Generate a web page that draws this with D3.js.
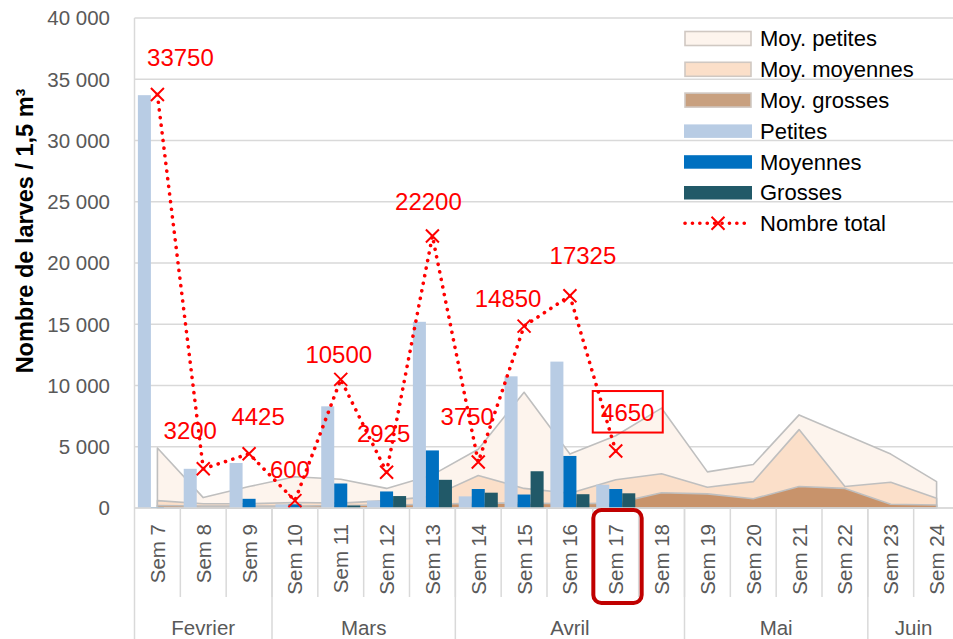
<!DOCTYPE html>
<html><head><meta charset="utf-8">
<script src="https://cdn.jsdelivr.net/npm/d3@7"></script>
<style>
html,body{margin:0;padding:0;background:#fff;}
svg{display:block;font-family:"Liberation Sans",Arial,sans-serif;}
</style></head>
<body>
<svg id="chart" width="953" height="639"></svg>
<script>
// ---- data ----
const categories = ["Sem 7","Sem 8","Sem 9","Sem 10","Sem 11","Sem 12","Sem 13","Sem 14","Sem 15","Sem 16","Sem 17","Sem 18","Sem 19","Sem 20","Sem 21","Sem 22","Sem 23","Sem 24"];
const monthNames = ["Fevrier","Mars","Avril","Mai","Juin"];
const monthSpans = [3,4,5,4,2];
const yTicks = [0,5000,10000,15000,20000,25000,30000,35000,40000];

const moyPetites  = [4900,850,1750,2550,2350,1600,2700,4800,9450,4400,5900,8150,2950,3550,7600,6000,4400,2150];
const moyMoyennes = [600,350,350,450,400,600,950,2650,1600,1200,2300,2800,1700,2150,6400,1750,2100,800];
const moyGrosses  = [200,150,150,150,200,250,300,400,400,350,400,1250,1150,750,1750,1600,300,250];

const petites  = [33700,3200,3675,300,8300,600,15200,950,10750,11950,1900];
const moyennes = [50,0,750,300,2000,1350,4700,1550,1100,4250,1550];
const grosses  = [0,0,0,0,200,975,2300,1250,3000,1125,1200];
const total    = [33750,3200,4425,600,10500,2925,22200,3750,14850,17325,4650];
const highlighted = "Sem 17";

// label offsets (px) relative to marker
const labelDx = [23,-13,9,-5,-2,-3,-4,-11,-16,13,12];
const labelDy = [-37,-38,-37,-31,-25,-39,-35,-46,-28,-40,-39];

// ---- layout ----
const svg = d3.select("#chart");
const x0 = 134.5, x1 = 959.5, yTop = 18, yBot = 508;
const x = d3.scaleBand().domain(categories).range([x0, x1]).padding(0);
const y = d3.scaleLinear().domain([0,40000]).range([yBot, yTop]);
const bw = x.bandwidth();
const cx = c => x(c) + bw/2;
const seriesNames = ["Petites","Moyennes","Grosses"];
const xs = d3.scaleBand().domain(seriesNames).range([0, bw]).paddingInner(0).paddingOuter(0.26);

const grid = "#d9d9d9";
const tickColor = "#595959";

// gridlines
svg.append("g").selectAll("line").data(yTicks).join("line")
  .attr("x1", x0).attr("x2", x1).attr("y1", d=>y(d)).attr("y2", d=>y(d))
  .attr("stroke", grid).attr("stroke-width", 1.5);

// y tick labels
const fmt = v => d3.format(",")(v).replace(/,/g, " ");
svg.append("g").selectAll("text").data(yTicks).join("text")
  .attr("x", 110).attr("y", d=>y(d)).attr("dy","0.36em")
  .attr("text-anchor","end").attr("fill", tickColor)
  .attr("font-size", 20.5).text(fmt);

// y axis title
svg.append("text")
  .attr("transform", "translate(33,231) rotate(-90)")
  .attr("text-anchor","middle").attr("font-weight","bold")
  .attr("font-size", 23.5).attr("fill","#000")
  .html('Nombre de larves / 1,5 m<tspan>³</tspan>');

// areas
const areaColors = [
  {data: moyPetites, fill:"#fdf4ed"},
  {data: moyMoyennes, fill:"#fbdfc9"},
  {data: moyGrosses, fill:"#c8936b"}
];
areaColors.forEach(a => {
  const ar = d3.area().x((d,i)=>cx(categories[i])).y0(y(0)).y1(d=>y(d));
  svg.append("path").attr("d", ar(a.data) + "Z")
    .attr("fill", a.fill).attr("stroke", "#bfbfbf").attr("stroke-width", 1.6)
    .attr("stroke-linejoin","round");
});

// bars
const barColors = {Petites:"#b8cce4", Moyennes:"#0070c0", Grosses:"#215968"};
const barData = [petites, moyennes, grosses];
seriesNames.forEach((s, si) => {
  svg.append("g").selectAll("rect").data(barData[si]).join("rect")
    .attr("x", (d,i)=>x(categories[i]) + xs(s))
    .attr("width", xs.bandwidth())
    .attr("y", d=>y(d)).attr("height", d=>y(0)-y(d))
    .attr("fill", barColors[s]);
});

// x axis line
svg.append("line").attr("x1", x0).attr("x2", x1).attr("y1", yBot).attr("y2", yBot)
  .attr("stroke", grid).attr("stroke-width", 1.5);
// left axis line
svg.append("line").attr("x1", x0).attr("x2", x0).attr("y1", yTop).attr("y2", 639)
  .attr("stroke", grid).attr("stroke-width", 1.5);

// category tick separators
svg.append("g").selectAll("line").data(categories.slice(1)).join("line")
  .attr("x1", d=>x(d)).attr("x2", d=>x(d)).attr("y1", yBot).attr("y2", 597)
  .attr("stroke", grid).attr("stroke-width", 1.5);

// month separators and labels
let acc = 0;
monthSpans.forEach((n, mi) => {
  const start = x(categories[acc]);
  const endIdx = acc + n - 1;
  const end = x(categories[endIdx]) + bw;
  svg.append("line").attr("x1", end).attr("x2", end).attr("y1", yBot).attr("y2", 639)
    .attr("stroke", grid).attr("stroke-width", 1.5);
  svg.append("text").attr("x", (start+end)/2).attr("y", 628).attr("dy","0.36em")
    .attr("text-anchor","middle").attr("fill", tickColor).attr("font-size", 20.5)
    .text(monthNames[mi]);
  acc += n;
});

// category labels
svg.append("g").selectAll("text").data(categories).join("text")
  .attr("transform", d=>`translate(${cx(d)+7.5},524) rotate(-90)`)
  .attr("text-anchor","end").attr("fill", tickColor).attr("font-size", 20.5)
  .text(d=>d);

// highlight box around Sem 17
svg.append("rect")
  .attr("x", x(highlighted)+0.5).attr("y", 510).attr("width", bw+2.5).attr("height", 93)
  .attr("rx", 8).attr("fill","none").attr("stroke","#c00000").attr("stroke-width", 4);

// total line (dotted)
const line = d3.line().x((d,i)=>cx(categories[i])).y(d=>y(d));
svg.append("path").attr("d", line(total))
  .attr("fill","none").attr("stroke","#ff0000").attr("stroke-width", 3.6)
  .attr("stroke-linecap","round").attr("stroke-dasharray","0.1 7.6");

// markers
const ms = 6.5;
const mk = svg.append("g");
total.forEach((v,i) => {
  const px = cx(categories[i]), py = y(v);
  mk.append("path").attr("d", `M${px-ms},${py-ms}L${px+ms},${py+ms}M${px-ms},${py+ms}L${px+ms},${py-ms}`)
    .attr("stroke","#ff0000").attr("stroke-width", 2);
});

// data labels
svg.append("g").selectAll("text").data(total).join("text")
  .attr("x", (d,i)=>cx(categories[i]) + labelDx[i])
  .attr("y", (d,i)=>y(d) + labelDy[i]).attr("dy","0.36em")
  .attr("text-anchor","middle").attr("fill","#ff0000").attr("font-size", 24)
  .text(d=>d);

// box around last label
{
  const i = total.length - 1;
  const lx = cx(categories[i]) + labelDx[i], ly = y(total[i]) + labelDy[i];
  svg.append("rect").attr("x", lx-35).attr("y", ly-21).attr("width", 70).attr("height", 41.5)
    .attr("fill","none").attr("stroke","#ff0000").attr("stroke-width", 2);
}

// legend
const legendItems = [
  {name:"Moy. petites", type:"area", fill:"#fdf4ed"},
  {name:"Moy. moyennes", type:"area", fill:"#fbdfc9"},
  {name:"Moy. grosses", type:"area", fill:"#c8a07f"},
  {name:"Petites", type:"bar", fill:barColors.Petites},
  {name:"Moyennes", type:"bar", fill:barColors.Moyennes},
  {name:"Grosses", type:"bar", fill:barColors.Grosses},
  {name:"Nombre total", type:"line"}
];
const lg = svg.append("g");
legendItems.forEach((it, i) => {
  const cyL = 38.5 + i*30.8;
  if (it.type === "area") {
    lg.append("rect").attr("x", 685).attr("y", cyL-7).attr("width", 66).attr("height", 14)
      .attr("fill", it.fill).attr("stroke","#d0c8c2").attr("stroke-width", 1.6);
  } else if (it.type === "bar") {
    lg.append("rect").attr("x", 684).attr("y", cyL-6.5).attr("width", 68).attr("height", 13.5)
      .attr("fill", it.fill);
  } else {
    lg.append("line").attr("x1", 685).attr("x2", 751).attr("y1", cyL).attr("y2", cyL)
      .attr("stroke","#ff0000").attr("stroke-width", 3.6).attr("stroke-linecap","round")
      .attr("stroke-dasharray","0.1 7.3");
    const mx = 718;
    lg.append("path").attr("d", `M${mx-ms},${cyL-ms}L${mx+ms},${cyL+ms}M${mx-ms},${cyL+ms}L${mx+ms},${cyL-ms}`)
      .attr("stroke","#ff0000").attr("stroke-width", 2);
  }
  lg.append("text").attr("x", 760).attr("y", cyL).attr("dy","0.36em")
    .attr("font-size", 22).attr("fill","#000").text(it.name);
});
</script>
</body></html>
